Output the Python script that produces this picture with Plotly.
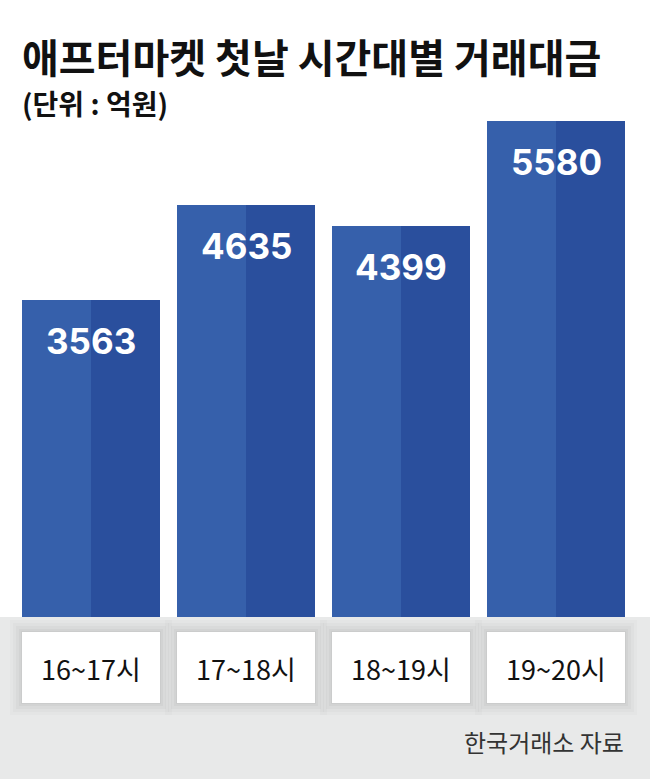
import plotly.graph_objects as go

categories = ["16~17시", "17~18시", "18~19시", "19~20시"]
values = [3563, 4635, 4399, 5580]
value_labels = ["3563", "4635", "4399", "5580"]
title_text = "애프터마켓 첫날 시간대별 거래대금"
subtitle_text = "(단위 : 억원)"
source_text = "한국거래소 자료"

W, H = 650, 779
M_T, M_B = 100, 162
PH = H - M_T - M_B
Y0_PX = H - M_B  # pixel row of y=0


def py(p):
    """pixel row -> paper y"""
    return (Y0_PX - p) / PH


x_idx = list(range(len(categories)))
pitch = 155.0
half = 69.0 / pitch

fig = go.Figure()
fig.add_trace(go.Bar(
    x=x_idx, y=values, width=half, offset=-half,
    marker=dict(color="#3660ab", line=dict(width=0)),
    hoverinfo="skip", showlegend=False,
))
fig.add_trace(go.Bar(
    x=x_idx, y=values, width=half, offset=0,
    marker=dict(color="#2a4f9d", line=dict(width=0)),
    hoverinfo="skip", showlegend=False,
))

shapes = []
# gray band
shapes.append(dict(type="rect", xref="paper", yref="paper", x0=0, x1=1,
                   y0=py(H), y1=py(Y0_PX), fillcolor="#e8e9e9",
                   line=dict(width=0), layer="below"))
# label boxes with soft shadow
for i in x_idx:
    for k, op in [(12, 0.015), (9, 0.02), (6, 0.025), (3, 0.03), (1, 0.03)]:
        shapes.append(dict(type="rect", xref="x", yref="paper",
                           x0=i - half - k / pitch, x1=i + half + k / pitch,
                           y0=py(703 + k), y1=py(632 - k),
                           fillcolor="#000000", opacity=op,
                           line=dict(width=0), layer="below"))
    shapes.append(dict(type="rect", xref="x", yref="paper",
                       x0=i - half, x1=i + half, y0=py(703), y1=py(632),
                       fillcolor="#ffffff", line=dict(width=0), layer="below"))

annotations = []
annotations.append(dict(text="<b>" + title_text + "</b>", xref="paper", yref="paper",
                        x=20 / W, y=py(56), xanchor="left", yanchor="middle",
                        showarrow=False,
                        font=dict(family="Noto Sans CJK KR", size=40, color="#111111")))
annotations.append(dict(text="<b>" + subtitle_text + "</b>", xref="paper", yref="paper",
                        x=20 / W, y=py(103), xanchor="left", yanchor="middle",
                        showarrow=False,
                        font=dict(family="Noto Sans CJK KR", size=28, color="#111111")))
for i, v, lab in zip(x_idx, values, value_labels):
    annotations.append(dict(text="<b>" + lab + "</b>", x=i, y=v, xref="x", yref="y",
                            yanchor="middle", xanchor="center", yshift=-41,
                            showarrow=False,
                            font=dict(family="Inter, Roboto", size=35, color="#ffffff")))
for i, c in zip(x_idx, categories):
    annotations.append(dict(text=c, x=i, y=py(668), xref="x", yref="paper",
                            yanchor="middle", xanchor="center", showarrow=False,
                            font=dict(family="Noto Sans CJK KR", size=27, color="#111111")))
annotations.append(dict(text=source_text, xref="paper", yref="paper",
                        x=626 / W, y=py(741), xanchor="right", yanchor="middle",
                        showarrow=False,
                        font=dict(family="Noto Sans CJK KR", size=24, color="#333333")))

x_lo = -91 / pitch
x_hi = (W - 91) / pitch
y_hi = PH * 3563 / 317.0

fig.update_layout(
    width=W, height=H,
    margin=dict(l=0, r=0, t=M_T, b=M_B, pad=0),
    paper_bgcolor="#ffffff", plot_bgcolor="rgba(0,0,0,0)",
    barmode="overlay", bargap=0,
    xaxis=dict(range=[x_lo, x_hi], visible=False, fixedrange=True),
    yaxis=dict(range=[0, y_hi], visible=False, fixedrange=True),
    shapes=shapes, annotations=annotations,
)

fig.write_html("out.html", config={"displayModeBar": False},
               post_script="document.body.style.margin='0';document.body.style.padding='0';")
